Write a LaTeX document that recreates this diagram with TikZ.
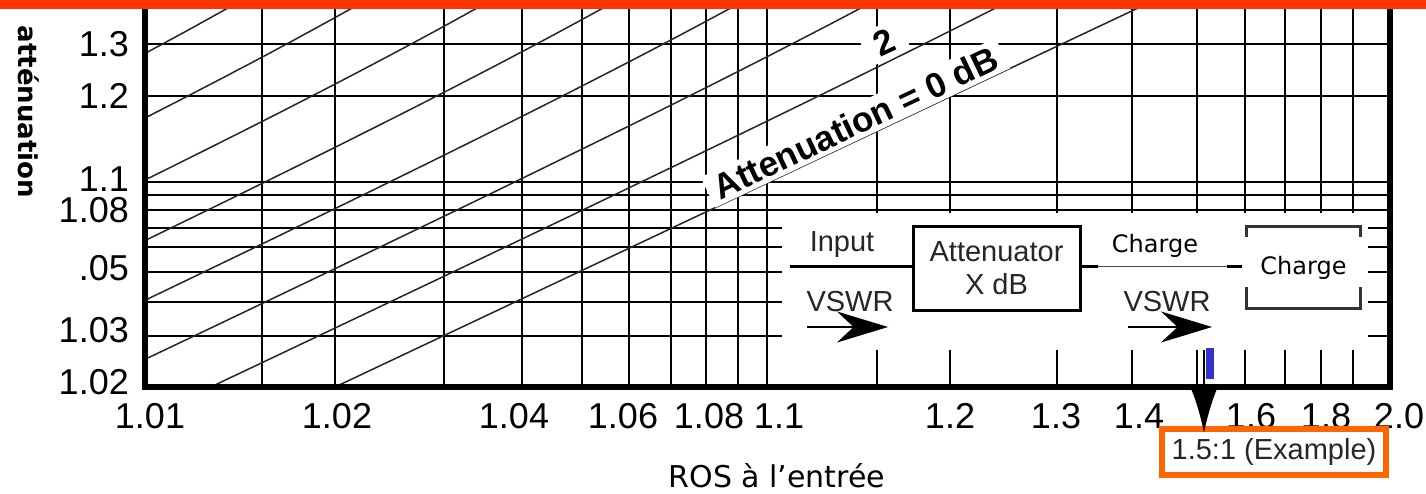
\documentclass[tikz,border=0pt]{standalone}
\usepackage{fontspec}
\setmainfont{Liberation Sans}
\newfontfamily\comic{DejaVu Sans}
\usetikzlibrary{arrows.meta}
\definecolor{barred}{RGB}{255,51,0}
\definecolor{boxorange}{RGB}{255,102,0}
\definecolor{markblue}{RGB}{51,51,204}

\begin{document}
\begin{tikzpicture}[x=1pt, y=-1pt,
    grid/.style = {line width=2pt},
    frame/.style = {line width=6pt, line join=miter},
    curve/.style = {line width=1.5pt, black!85},
    num/.style = {font=\fontsize{36}{40}\selectfont, inner sep=0pt},
    small/.style = {font=\fontsize{29}{32}\selectfont, inner sep=0pt, text=black!85},
    hand/.style = {font=\comic\fontsize{24}{28}\selectfont, inner sep=0pt},
    bracket/.style = {line width=3pt, black!80}]

    \fill[white] (0,0) rectangle (1426,494);
    \useasboundingbox (0,0) rectangle (1426,494);

    %Grid
    \foreach \y in {44,96,182,195,210,228,247,272,302,336}
        \draw[grid] (145,\y) -- (1390,\y);
    \foreach \x in {262,335,444,522,582,629,671,706,738,767,877,950,1057,1132,1197,1245,1285,1321,1353}
        \draw[grid] (\x,0) -- (\x,387);

    %Attenuation curves, 0 to 14 dB
    \begin{scope}
        \clip (145,9) rectangle (1390,387);
        \foreach \a in {0,2,...,14} {
            \pgfmathsetmacro\katt{pow(10,\a/10)}
            \pgfmathsetmacro\lk{log10(2*\katt)}
            \pgfmathsetmacro\gmax{0.18/\katt}
            \pgfmathsetmacro\lend{log10(2*\gmax/(1-\gmax))}
            \draw[curve] plot[domain=-2.05:\lend, samples=40, variable=\lv]
                ({1382.6+616.6*\lv},
                 {-107.4-291*(\lk+\lv-log10(2+(1-\katt)*pow(10,\lv)))});
        }
    \end{scope}

    %Inset area
    \fill[white] (782,213) rectangle (1368,350);

    %Curve labels
    \node[fill=white, rotate=25.3, anchor=south west, inner xsep=8pt, inner ysep=4pt,
        font=\bfseries\fontsize{35}{40}\selectfont] (zero) at (715,208) {Attenuation = 0 dB};
    \node[fill=white, rotate=25, inner xsep=12pt, inner ysep=5pt,
        font=\bfseries\fontsize{35}{40}\selectfont] (two) at (884,42) {2};

    %Frame
    \draw[frame] (145,0) -- (145,387) -- (1390,387) -- (1390,0);

    %Axis labels
    \foreach \y/\lab in {44/1.3, 96/1.2, 179/1.1, 210/1.08, 268/.05, 330/1.03, 382/1.02}
        \node[num, anchor=east] (yl\y) at (129,\y) {\lab};
    \foreach \x/\lab in {150/1.01, 337/1.02, 514/1.04, 623/1.06, 709/1.08, 779/1.1, 950/1.2, 1056/1.3, 1139/1.4, 1251/1.6, 1326/1.8, 1399/2.0}
        \node[num] (xl\x) at (\x,416) {\lab};
    \node[font=\comic\fontsize{30}{34}\selectfont, inner sep=0pt] (xtitle) at (777,476) {ROS à l’entrée};
    \node[font=\comic\bfseries\fontsize{26}{30}\selectfont, rotate=-90, inner sep=0pt] (ytitle) at (29,112) {atténuation};

    %Attenuator diagram
    \node[small] (input) at (842,245) {Input};
    \node[small, draw=black, line width=3pt, minimum width=167pt, minimum height=83pt, align=center] (att) at (996.5,268.5) {Attenuator\\[1pt]X dB};
    \node[hand, minimum width=113pt, minimum height=81pt] (load) at (1303.5,267.5) {Charge};
    \node[hand] (charge) at (1155,246) {Charge};
    \coordinate (in) at (790,267);
    \coordinate (outa) at (1098,267);
    \coordinate (outb) at (1227,267);
    \coordinate (outc) at (1242,267);
    \draw[line width=3pt] (in) -- (in -| att.west);
    \draw[line width=3pt] (outa -| att.east) -- (outa);
    \draw[line width=1pt, black!70] (outa) -- (outb);
    \draw[line width=3pt] (outb) -- (outc);
    \draw[bracket] (load.north west) ++(0,10) -- ++(0,-10) -- (load.north east) -- ++(0,10);
    \draw[bracket] (load.south west) ++(0,-21) -- ++(0,21) -- (load.south east) -- ++(0,-21);

    \node[small] (vswrin) at (850,302) {VSWR};
    \node[small] (vswrout) at (1167,302) {VSWR};
    \coordinate (ina) at (807,327);
    \coordinate (inb) at (888,327);
    \coordinate (oa) at (1128,327);
    \coordinate (ob) at (1212,327);
    \draw[-{Stealth[length=51pt, width=31pt]}, line width=2pt] (ina) -- (inb);
    \draw[-{Stealth[length=51pt, width=31pt]}, line width=2pt] (oa) -- (ob);

    %Example marker
    \node[fill=markblue, minimum width=8pt, minimum height=31pt, inner sep=0pt] (mark) at (1210,363.5) {};
    \node[small, draw=boxorange, line width=6pt, minimum width=224pt, minimum height=46.5pt] (example) at (1274,451.75) {1.5:1 (Example)};
    \coordinate (arrtop) at (1204,350);
    \coordinate (arrtip) at (1204,433);
    \draw[-{Latex[length=44pt, width=26pt]}, line width=2pt] (arrtop) -- (arrtip);

    %Title bar
    \fill[barred] (0,0) rectangle (1426,9);
\end{tikzpicture}
\end{document}
